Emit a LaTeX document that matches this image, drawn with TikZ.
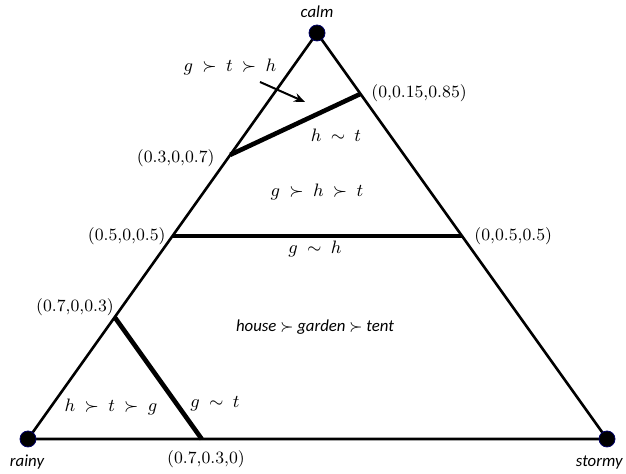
\documentclass[tikz,border=0pt]{standalone}
\usepackage{fontspec}
\setsansfont{Carlito}
\usetikzlibrary{arrows.meta}

\tikzset{
  corner/.style={circle,fill=black,draw=black!60!blue,line width=0.4pt,inner sep=0pt,minimum size=8pt},
  tag/.style={font=\fontsize{8.6}{10}\selectfont,inner sep=1pt},
  vtx/.style={font=\sffamily\itshape\fontsize{8.4}{10}\selectfont,inner sep=1pt},
  region/.style={font=\fontsize{9}{11}\selectfont,inner sep=1pt},
  edge/.style={line width=1.3pt},
  border/.style={line width=2.3pt}
}

\begin{document}
\begin{tikzpicture}[x=0.5pt,y=0.5pt]
    \useasboundingbox (0,0) rectangle (626,474);

    % the three pure states
    \coordinate (calm) at (317,441);
    \coordinate (rainy) at (28,35);
    \coordinate (stormy) at (607,35);
    \draw[edge] (calm) -- (rainy) -- (stormy) -- cycle;
    \foreach \v in {calm,rainy,stormy}{
      \node[corner] (\v dot) at (\v) {};
    }
    \node[vtx] (calmtxt) at (317,462) {calm};
    \node[vtx] (rainytxt) at (27,12) {rainy};
    \node[vtx,anchor=east] (stormytxt) at (625,11) {stormy};

    % indifference lines
    \coordinate (p1) at (barycentric cs:stormy=0.15,calm=0.85);
    \coordinate (p2) at (barycentric cs:rainy=0.3,calm=0.7);
    \coordinate (p3) at (barycentric cs:rainy=0.5,calm=0.5);
    \coordinate (p4) at (barycentric cs:stormy=0.5,calm=0.5);
    \coordinate (p5) at (barycentric cs:rainy=0.7,calm=0.3);
    \coordinate (p6) at (barycentric cs:rainy=0.7,stormy=0.3);
    \draw[border] (p2) -- (p1);
    \draw[border] (p3) -- (p4);
    \draw[border] (p5) -- (p6);

    \node[tag,anchor=west] (p1txt) at (369,381) {(0,0.15,0.85)};
    \node[tag,anchor=east] (p2txt) at (217,316) {(0.3,0,0.7)};
    \node[tag,anchor=east] (p3txt) at (168,238) {(0.5,0,0.5)};
    \node[tag,anchor=west] (p4txt) at (472,238) {(0,0.5,0.5)};
    \node[tag] (p5txt) at (75,167) {(0.7,0,0.3)};
    \node[tag] (p6txt) at (206,15) {(0.7,0.3,0)};

    % preference regions
    \node[region] (gth) at (230,407) {$g\:\succ\:t\:\succ\:h$};
    \coordinate (arrfrom) at (260,392);
    \coordinate (arrto) at (305,372);
    \draw[line width=1pt,-{Stealth[length=5.5pt,width=4.5pt]}] (arrfrom) -- (arrto);
    \node[region] (ht) at (336,339) {$h\:\sim\:t$};
    \node[region] (ght) at (317,282) {$g\:\succ\:h\:\succ\:t$};
    \node[region] (gh) at (315,225) {$g\:\sim\:h$};
    \node[vtx] (hgt) at (315,147) {house $\succ$ garden $\succ$ tent};
    \node[region] (htg) at (111,67) {$h\:\succ\:t\:\succ\:g$};
    \node[region] (gt) at (215,70) {$g\:\sim\:t$};
  \end{tikzpicture}
\end{document}
